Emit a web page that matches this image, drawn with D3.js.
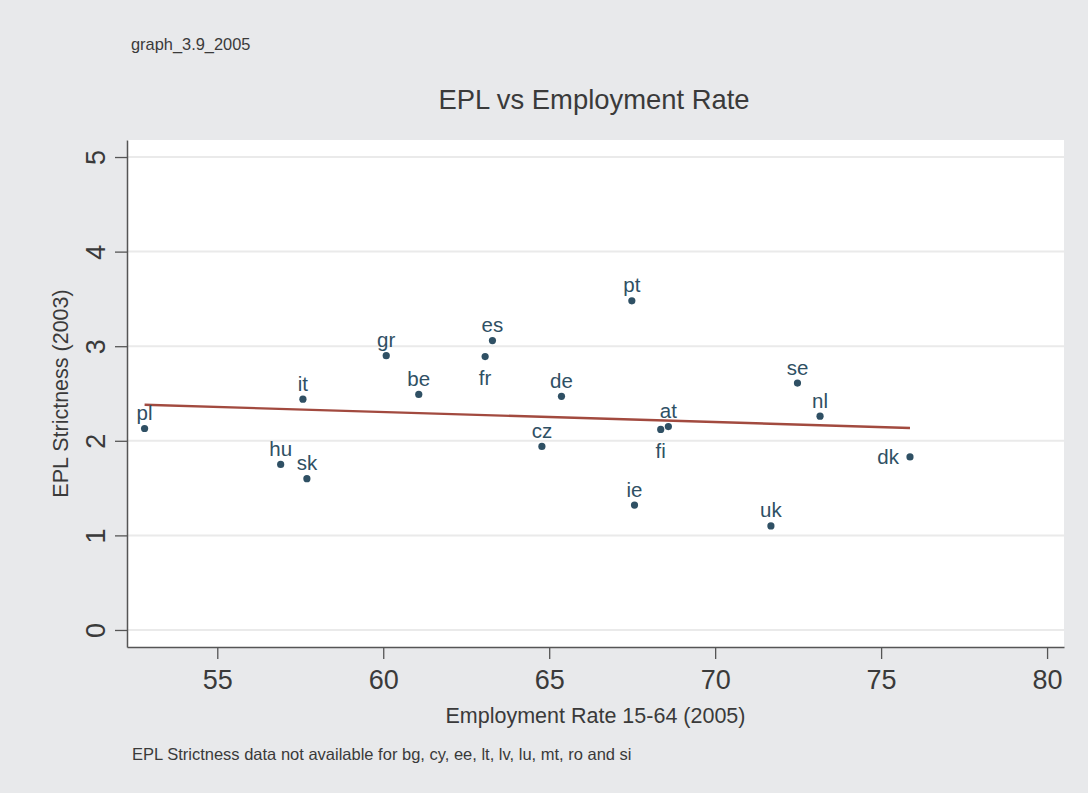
<!DOCTYPE html>
<html>
<head>
	<meta charset="UTF-8">
	<title>EPL vs Employment Rate</title>
	<script src="https://cdn.jsdelivr.net/npm/d3@7"></script>
	<style>
		body { margin: 0; background: #fff; }
		text { font-family: "Liberation Sans", Arial, Helvetica, sans-serif; }
	</style>
</head>
<body>
	<script type="text/javascript">
		// data
		var countries = ["pl","hu","it","sk","gr","be","fr","es","cz","de","pt","ie","fi","at","uk","se","nl","dk"];
		var empRate   = [52.81,56.91,57.58,57.70,60.09,61.07,63.07,63.29,64.78,65.37,67.49,67.57,68.36,68.59,71.68,72.48,73.16,75.87];
		var epl       = [2.13,1.75,2.44,1.60,2.90,2.49,2.89,3.06,1.94,2.47,3.48,1.32,2.12,2.15,1.10,2.61,2.26,1.83];
		// clock position of each marker label (12 = above, 6 = below, 9 = left)
		var labelPos  = [12,12,12,12,12,12,6,12,12,12,12,12,6,12,12,12,12,9];
		var xTicks = [55,60,65,70,75,80];
		var yTicks = [0,1,2,3,4,5];

		var W = 1088, H = 793;
		// plot region edges (note: "top" is taken by window.top)
		var pLeft = 127, pRight = 1064, pTop = 140, pBottom = 647;
		var markCol = "#2f5064", lineCol = "#a24a3f", txtCol = "#3a3a3a";

		var svg = d3.select("body").append("svg")
			.attr("width", W)
			.attr("height", H);

		// graph region
		svg.append("rect")
			.attr("width", W).attr("height", H)
			.attr("fill", "#e8e9eb");

		var x = d3.scaleLinear().domain([52.28, 80.51]).range([pLeft, pRight]);
		var y = d3.scaleLinear().domain([-0.18, 5.18]).range([pBottom, pTop]);

		// plot region
		svg.append("rect")
			.attr("x", pLeft).attr("y", pTop)
			.attr("width", pRight - pLeft).attr("height", pBottom - pTop)
			.attr("fill", "#fff");

		// grid
		svg.append("g").selectAll("line")
			.data(yTicks)
			.enter().append("line")
			.attr("x1", pLeft).attr("x2", pRight)
			.attr("y1", function(d) { return y(d); })
			.attr("y2", function(d) { return y(d); })
			.attr("stroke", "#eaeaea")
			.attr("stroke-width", 2);

		// fit line (OLS)
		var n = empRate.length;
		var mx = d3.mean(empRate), my = d3.mean(epl);
		var sxy = 0, sxx = 0;
		for (var i = 0; i < n; i++) {
			sxy += (empRate[i] - mx) * (epl[i] - my);
			sxx += (empRate[i] - mx) * (empRate[i] - mx);
		}
		var b = sxy / sxx, a = my - b * mx;
		var ext = d3.extent(empRate);
		svg.append("path")
			.datum(ext)
			.attr("d", d3.line()
				.x(function(d) { return x(d); })
				.y(function(d) { return y(a + b * d); }))
			.attr("fill", "none")
			.attr("stroke", lineCol)
			.attr("stroke-width", 2.4);

		// markers
		var pts = d3.range(n);
		svg.append("g").selectAll("circle")
			.data(pts)
			.enter().append("circle")
			.attr("cx", function(i) { return x(empRate[i]); })
			.attr("cy", function(i) { return y(epl[i]); })
			.attr("r", 3.6)
			.attr("fill", markCol);

		// marker labels
		svg.append("g").selectAll("text")
			.data(pts)
			.enter().append("text")
			.attr("x", function(i) { return x(empRate[i]) + (labelPos[i] == 9 ? -11 : 0); })
			.attr("y", function(i) {
				var p = labelPos[i];
				return y(epl[i]) + (p == 12 ? -8.5 : p == 6 ? 28.5 : 7.5);
			})
			.attr("text-anchor", function(i) { return labelPos[i] == 9 ? "end" : "middle"; })
			.attr("font-size", 20.5)
			.attr("fill", markCol)
			.text(function(i) { return countries[i]; });

		// x axis
		var xAxis = svg.append("g")
			.attr("transform", "translate(0," + pBottom + ")")
			.call(d3.axisBottom(x).tickValues(xTicks).tickSize(12).tickSizeOuter(0).tickPadding(11));
		xAxis.select(".domain").attr("stroke", "#555").attr("stroke-width", 1.5);
		xAxis.selectAll(".tick line").attr("stroke", "#555").attr("stroke-width", 1.3);
		xAxis.selectAll(".tick text")
			.attr("font-size", 27)
			.attr("font-family", "Liberation Sans, Arial, sans-serif")
			.attr("fill", txtCol);

		// y axis, labels turned
		var yAxis = svg.append("g")
			.attr("transform", "translate(" + pLeft + ",0)")
			.call(d3.axisLeft(y).tickValues(yTicks).tickFormat(d3.format("d")).tickSize(12).tickSizeOuter(0));
		yAxis.select(".domain").attr("stroke", "#555").attr("stroke-width", 1.5);
		yAxis.selectAll(".tick line").attr("stroke", "#555").attr("stroke-width", 1.3);
		yAxis.selectAll(".tick text")
			.attr("x", null).attr("dy", null)
			.attr("text-anchor", "middle")
			.attr("transform", "translate(-22,0) rotate(-90)")
			.attr("font-size", 27)
			.attr("font-family", "Liberation Sans, Arial, sans-serif")
			.attr("fill", txtCol);

		// titles
		svg.append("text")
			.attr("x", 594).attr("y", 109)
			.attr("text-anchor", "middle")
			.attr("font-size", 27.4)
			.attr("fill", txtCol)
			.text("EPL vs Employment Rate");

		svg.append("text")
			.attr("x", 131).attr("y", 50)
			.attr("font-size", 16.4)
			.attr("fill", txtCol)
			.text("graph_3.9_2005");

		svg.append("text")
			.attr("x", (pLeft + pRight) / 2).attr("y", 723)
			.attr("text-anchor", "middle")
			.attr("font-size", 21.5)
			.attr("fill", txtCol)
			.text("Employment Rate 15-64 (2005)");

		svg.append("text")
			.attr("transform", "translate(68," + (pTop + pBottom) / 2 + ") rotate(-90)")
			.attr("text-anchor", "middle")
			.attr("font-size", 21.5)
			.attr("fill", txtCol)
			.text("EPL Strictness (2003)");

		svg.append("text")
			.attr("x", 132).attr("y", 760)
			.attr("font-size", 16.5)
			.attr("fill", txtCol)
			.text("EPL Strictness data not available for bg, cy, ee, lt, lv, lu, mt, ro and si");
	</script>
</body>
</html>
